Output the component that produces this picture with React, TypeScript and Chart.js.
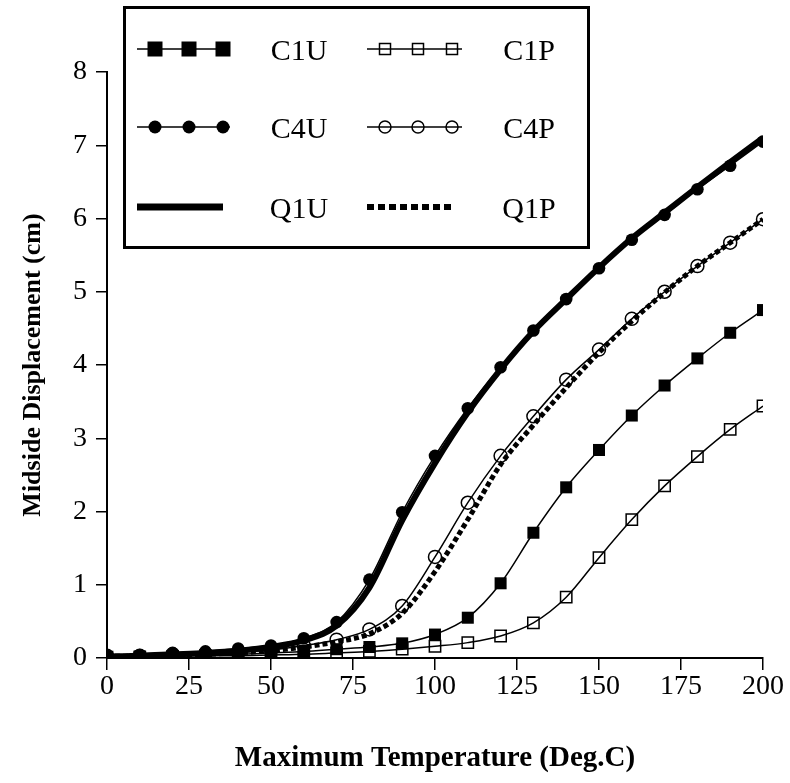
import React, { useEffect, useRef } from 'react';
import { Chart, registerables } from 'chart.js';

Chart.register(...registerables);

const temps = [0, 10, 20, 30, 40, 50, 60, 70, 80, 90, 100, 110, 120, 130, 140, 150, 160, 170, 180, 190, 200];

const seriesNames = ['C1U', 'C1P', 'C4U', 'C4P', 'Q1U', 'Q1P'];

const c1u = [0.01, 0.02, 0.03, 0.04, 0.05, 0.07, 0.09, 0.12, 0.15, 0.2, 0.32, 0.55, 1.02, 1.71, 2.33, 2.84, 3.31, 3.72, 4.09, 4.44, 4.75];
const c1p = [0.01, 0.01, 0.02, 0.03, 0.03, 0.04, 0.05, 0.07, 0.09, 0.12, 0.16, 0.21, 0.3, 0.48, 0.83, 1.37, 1.89, 2.35, 2.75, 3.12, 3.44];
const c4u = [0.03, 0.04, 0.07, 0.09, 0.13, 0.17, 0.27, 0.49, 1.07, 1.99, 2.76, 3.41, 3.97, 4.47, 4.9, 5.32, 5.71, 6.05, 6.4, 6.72, 7.05];
const c4p = [0.03, 0.03, 0.05, 0.06, 0.08, 0.11, 0.17, 0.25, 0.39, 0.71, 1.38, 2.12, 2.76, 3.3, 3.8, 4.21, 4.63, 5.0, 5.35, 5.67, 5.99];
const q1u = [0.02, 0.03, 0.05, 0.07, 0.1, 0.15, 0.24, 0.44, 0.96, 1.88, 2.66, 3.35, 3.94, 4.46, 4.9, 5.33, 5.73, 6.08, 6.43, 6.77, 7.1];
const q1p = [0.02, 0.03, 0.04, 0.05, 0.07, 0.1, 0.15, 0.22, 0.33, 0.61, 1.18, 1.89, 2.64, 3.18, 3.69, 4.17, 4.6, 4.99, 5.35, 5.67, 5.99];

const xMin = 0;
const xMax = 200;
const xStep = 25;
const yMin = 0;
const yMax = 8;
const yStep = 1;

const xTitle = 'Maximum Temperature (Deg.C)';
const yTitle = 'Midside Displacement (cm)';

const FONT = '"Liberation Serif", "Times New Roman", serif';

const toPts = (arr: number[]) => temps.map((t, i) => ({ x: t, y: arr[i] }));

type MarkerKind = 'rectFilled' | 'rectOpen' | 'circleFilled' | 'circleOpen' | 'thick' | 'dotted';
const legendKinds: MarkerKind[] = ['rectFilled', 'rectOpen', 'circleFilled', 'circleOpen', 'thick', 'dotted'];

function drawMarker(ctx: CanvasRenderingContext2D, kind: MarkerKind, x: number, y: number) {
  ctx.save();
  ctx.fillStyle = '#000';
  ctx.strokeStyle = '#000';
  ctx.lineWidth = 1.5;
  if (kind === 'rectFilled') {
    ctx.fillRect(x - 7.5, y - 7.5, 15, 15);
  } else if (kind === 'rectOpen') {
    ctx.strokeRect(x - 5.5, y - 5.5, 11, 11);
  } else if (kind === 'circleFilled') {
    ctx.beginPath();
    ctx.arc(x, y, 6.5, 0, Math.PI * 2);
    ctx.fill();
  } else if (kind === 'circleOpen') {
    ctx.beginPath();
    ctx.arc(x, y, 6, 0, Math.PI * 2);
    ctx.stroke();
  }
  ctx.restore();
}

const legendPlugin = {
  id: 'boxLegend',
  afterDraw(chart: any) {
    const ctx: CanvasRenderingContext2D = chart.ctx;
    ctx.save();
    ctx.fillStyle = '#fff';
    ctx.fillRect(123, 6, 467, 243);
    ctx.lineWidth = 3;
    ctx.strokeStyle = '#000';
    ctx.strokeRect(124.5, 7.5, 464, 240);

    const rowsY = [49, 127, 207];
    const cols = [
      { x0: 137, x1: 230, marks: [155, 189, 223], label: 299 },
      { x0: 367, x1: 462, marks: [385, 418, 452], label: 529 },
    ];
    ctx.font = `30px ${FONT}`;
    ctx.textAlign = 'center';
    ctx.textBaseline = 'alphabetic';
    for (let i = 0; i < seriesNames.length; i++) {
      const row = Math.floor(i / 2);
      const col = cols[i % 2];
      const y = rowsY[row];
      const kind = legendKinds[i];
      ctx.strokeStyle = '#000';
      if (kind === 'thick') {
        ctx.lineWidth = 7;
        ctx.beginPath();
        ctx.moveTo(col.x0, y);
        ctx.lineTo(col.x1 - 7, y);
        ctx.stroke();
      } else if (kind === 'dotted') {
        ctx.lineWidth = 6;
        ctx.setLineDash([7, 4]);
        ctx.beginPath();
        ctx.moveTo(col.x0, y);
        ctx.lineTo(col.x1 - 9, y);
        ctx.stroke();
        ctx.setLineDash([]);
      } else {
        ctx.lineWidth = 1.5;
        ctx.beginPath();
        ctx.moveTo(col.x0, y);
        ctx.lineTo(col.x1, y);
        ctx.stroke();
        col.marks.forEach((mx) => drawMarker(ctx, kind, mx, y));
      }
      ctx.fillStyle = '#000';
      ctx.fillText(seriesNames[i], col.label, y + 11);
    }
    ctx.restore();
  },
};

export default function App() {
  const ref = useRef<HTMLCanvasElement | null>(null);

  useEffect(() => {
    document.body.style.margin = '0';
    const canvas = ref.current;
    if (!canvas) return;
    const thin = {
      borderColor: '#000',
      borderWidth: 1.5,
      cubicInterpolationMode: 'monotone' as const,
      pointBorderColor: '#000',
    };
    const chart = new Chart(canvas, {
      type: 'line',
      data: {
        datasets: [
          { ...thin, label: seriesNames[0], data: toPts(c1u), pointStyle: 'rect', pointRadius: 8.5, pointBackgroundColor: '#000', pointBorderWidth: 0 },
          { ...thin, label: seriesNames[1], data: toPts(c1p), pointStyle: 'rect', pointRadius: 8, pointBackgroundColor: 'rgba(0,0,0,0)', pointBorderWidth: 1.5 },
          { ...thin, label: seriesNames[2], data: toPts(c4u), pointStyle: 'circle', pointRadius: 6.3, pointBackgroundColor: '#000', pointBorderWidth: 0 },
          { ...thin, label: seriesNames[3], data: toPts(c4p), pointStyle: 'circle', pointRadius: 6.5, pointBackgroundColor: 'rgba(0,0,0,0)', pointBorderWidth: 1.5 },
          { label: seriesNames[4], data: toPts(q1u), borderColor: '#000', borderWidth: 6, pointRadius: 0, cubicInterpolationMode: 'monotone' },
          { label: seriesNames[5], data: toPts(q1p), borderColor: '#000', borderWidth: 5, borderDash: [5, 3], pointRadius: 0, cubicInterpolationMode: 'monotone' },
        ] as any,
      },
      options: {
        responsive: false,
        animation: false,
        layout: { padding: { top: 72, right: 27, left: 0, bottom: 0 } },
        plugins: { legend: { display: false }, tooltip: { enabled: false } },
        elements: { line: { fill: false } },
        scales: {
          x: {
            type: 'linear',
            min: xMin,
            max: xMax,
            afterFit: (s: any) => { s.height = 125; },
            ticks: { stepSize: xStep, color: '#000', padding: 0, font: { family: FONT, size: 28 }, maxRotation: 0 },
            grid: { display: true, drawOnChartArea: false, drawTicks: true, tickLength: 12, color: '#000', lineWidth: 1.5 },
            border: { display: true, color: '#000', width: 2 },
            title: { display: true, text: xTitle, color: '#000', font: { family: FONT, size: 29, weight: 'bold' }, padding: { top: 0, bottom: 7 } },
          },
          y: {
            type: 'linear',
            min: yMin,
            max: yMax,
            afterFit: (s: any) => { s.width = 107; },
            ticks: { stepSize: yStep, color: '#000', padding: 9, font: { family: FONT, size: 28 } },
            grid: { display: true, drawOnChartArea: false, drawTicks: true, tickLength: 11, color: '#000', lineWidth: 1.5 },
            border: { display: true, color: '#000', width: 2 },
            title: { display: true, text: yTitle, color: '#000', font: { family: FONT, size: 26, weight: 'bold' }, padding: { top: 18, bottom: 0 } },
          },
        },
      },
      plugins: [legendPlugin],
    });
    return () => chart.destroy();
  }, []);

  return (
    <div style={{ width: 790, height: 783, background: '#fff' }}>
      <canvas ref={ref} width={790} height={783} style={{ display: 'block', width: 790, height: 783 }} />
    </div>
  );
}
